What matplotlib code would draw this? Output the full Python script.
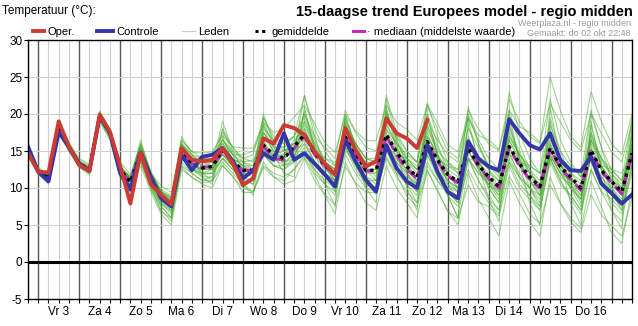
import matplotlib
matplotlib.use("Agg")
import matplotlib.pyplot as plt
from matplotlib.lines import Line2D
import numpy as np

plt.rcParams['font.family'] = ['Liberation Sans', 'DejaVu Sans']
plt.rcParams['axes.unicode_minus'] = False

# 6-hourly steps, starting do 2 okt 18:00
day_labels = ["Vr 3", "Za 4", "Zo 5", "Ma 6", "Di 7", "Wo 8", "Do 9", "Vr 10",
              "Za 11", "Zo 12", "Ma 13", "Di 14", "Wo 15", "Do 16"]

oper = [14.7,
        12.2, 12.1, 19.0, 15.6,
        13.1, 12.3, 19.9, 17.6,
        13.0, 7.9, 14.8, 10.5,
        9.1, 7.8, 15.4, 13.8,
        13.6, 13.8, 15.4, 13.3,
        10.4, 11.3, 16.7, 16.0,
        18.5, 18.1, 17.2, 14.9,
        13.3, 11.8, 18.1, 15.1,
        12.9, 13.6, 19.4, 17.4,
        16.7, 15.4, 19.2]

controle = [15.6,
            12.2, 10.9, 17.6, 15.5,
            13.3, 12.3, 19.7, 17.5,
            12.0, 9.8, 14.8, 11.5,
            8.6, 7.5, 14.5, 12.4,
            14.2, 14.5, 15.4, 13.6,
            11.3, 12.4, 14.7, 13.8,
            17.4, 13.8, 14.7, 13.3,
            11.8, 10.2, 16.5, 13.6,
            11.1, 9.5, 15.8, 12.7,
            10.9, 10.0, 15.8, 12.2,
            9.5, 8.6, 16.3, 14.0,
            12.9, 12.4, 19.3, 17.4,
            15.8, 15.2, 17.4, 13.8,
            12.4, 12.3, 14.2, 10.6,
            9.3, 7.9, 9.1]

gemiddelde = [15.0,
              12.3, 11.3, 18.2, 15.5,
              13.3, 12.5, 19.7, 17.4,
              12.5, 10.8, 14.8, 11.0,
              8.8, 7.9, 14.9, 13.4,
              12.7, 12.9, 15.1, 13.6,
              12.4, 12.4, 15.8, 14.5,
              14.0, 15.6, 17.2, 14.7,
              13.1, 11.8, 16.9, 14.7,
              12.4, 12.4, 17.2, 14.9,
              12.9, 11.5, 16.3, 13.8,
              11.8, 10.9, 15.4, 13.1,
              11.5, 10.2, 15.6, 13.3,
              11.5, 10.2, 15.4, 12.9,
              11.5, 10.0, 15.1, 12.4,
              10.9, 9.5, 14.7]

mediaan = [15.0,
           12.3, 11.2, 18.2, 15.5,
           13.3, 12.5, 19.7, 17.4,
           12.5, 10.8, 14.8, 11.0,
           8.8, 7.9, 14.9, 13.3,
           12.8, 12.9, 15.0, 13.5,
           12.4, 12.4, 15.6, 14.0,
           13.8, 15.4, 17.0, 14.5,
           13.0, 11.7, 16.8, 14.5,
           12.3, 12.3, 17.0, 14.5,
           12.5, 11.3, 16.2, 13.6,
           11.6, 10.7, 15.3, 13.0,
           11.3, 10.0, 15.5, 13.0,
           11.2, 10.0, 15.3, 12.7,
           11.2, 9.7, 15.0, 12.2,
           10.7, 9.2, 14.6]

leden = [
    [15.5, 12.8, 11.8, 18.7, 16.0, 13.8, 13.0, 20.2, 17.9, 13.5, 11.8, 15.8, 12.0,
     10.3, 9.4, 16.4, 14.9, 14.7, 14.9, 17.1, 15.6, 15.4, 15.4, 18.8, 17.5,
     18.0, 19.6, 21.2, 18.7, 16.1, 14.8, 19.9, 17.7, 16.4, 16.4, 21.2, 18.9,
     17.9, 16.5, 21.3, 18.8, 15.8, 14.9, 19.4, 17.1, 16.5, 15.2, 20.6, 18.3,
     17.5, 16.2, 21.4, 18.9, 16.5, 15.0, 20.1, 17.4, 14.9, 13.5, 18.7],
    [14.5, 11.8, 10.8, 17.7, 15.0, 12.8, 12.0, 19.2, 16.9, 11.5, 9.8, 13.8, 10.0,
     6.8, 5.9, 12.9, 11.4, 10.7, 10.9, 13.1, 11.6, 9.4, 9.4, 12.8, 11.5,
     11.0, 12.6, 14.2, 11.7, 9.1, 7.8, 12.9, 10.7, 9.4, 9.4, 14.2, 11.9,
     8.9, 7.5, 12.3, 9.8, 6.8, 5.9, 10.4, 8.1, 7.5, 6.2, 11.6, 9.3,
     6.5, 5.2, 10.4, 7.9, 5.5, 4.0, 9.1, 6.4, 4.9, 3.5, 8.7],
    [15.2, 12.1, 11.0, 18.5, 15.3, 13.1, 12.2, 20.0, 17.2, 12.2, 10.3, 15.5, 11.5,
     8.3, 7.0, 16.0, 13.8, 12.0, 11.0, 18.0, 14.5, 11.5, 10.5, 19.0, 15.5,
     13.0, 13.5, 20.5, 15.5, 12.0, 9.5, 20.0, 15.5, 11.0, 10.0, 20.5, 16.0,
     12.0, 9.5, 19.5, 14.5, 10.5, 8.5, 18.5, 14.0, 10.0, 8.0, 19.0, 14.0,
     10.0, 7.5, 19.0, 13.5, 10.0, 7.5, 18.5, 13.0, 9.5, 7.0, 18.0],
    [14.8, 12.5, 11.6, 17.9, 15.7, 13.5, 12.8, 19.4, 17.6, 12.8, 11.3, 14.3, 11.8,
     9.5, 8.8, 14.0, 13.0, 13.0, 13.5, 14.5, 13.8, 13.5, 13.8, 15.0, 14.5,
     15.0, 16.0, 16.5, 15.0, 14.0, 13.5, 15.5, 14.5, 13.5, 13.5, 15.5, 14.5,
     14.0, 13.0, 15.0, 14.0, 13.0, 12.5, 14.0, 13.5, 13.0, 12.0, 14.5, 13.5,
     13.0, 12.0, 14.0, 13.0, 12.5, 12.0, 14.0, 13.0, 12.5, 12.0, 14.5],
    [15.0, 12.0, 11.5, 18.0, 15.8, 13.0, 12.8, 19.5, 17.0, 13.0, 11.5, 16.0, 12.0,
     9.5, 8.5, 16.0, 14.5, 14.0, 14.5, 17.5, 15.5, 14.0, 13.5, 18.0, 16.5,
     16.0, 17.0, 19.5, 16.0, 13.0, 11.0, 16.0, 13.0, 10.5, 9.5, 14.0, 11.5,
     9.5, 8.0, 13.0, 11.0, 9.5, 8.0, 14.0, 12.0, 11.0, 10.0, 17.0, 14.5,
     13.0, 12.0, 18.5, 15.0, 13.0, 11.5, 17.0, 14.0, 11.5, 10.0, 15.5],
    [14.9, 12.4, 11.2, 18.3, 15.2, 13.2, 12.3, 19.6, 17.2, 12.0, 10.0, 13.5, 10.0,
     7.5, 6.0, 13.0, 12.0, 11.0, 11.0, 13.5, 12.0, 10.5, 9.5, 13.0, 12.0,
     11.5, 12.5, 14.5, 12.5, 11.0, 10.0, 15.0, 13.5, 12.5, 12.5, 18.0, 16.0,
     14.5, 13.5, 19.0, 16.5, 14.5, 13.5, 19.5, 16.5, 14.0, 12.5, 18.0, 15.0,
     12.0, 10.0, 15.0, 12.5, 11.0, 9.0, 14.0, 11.0, 9.0, 7.5, 13.0],
    [15.3, 12.0, 10.8, 18.6, 15.5, 13.0, 12.0, 20.3, 17.5, 12.0, 10.0, 15.0, 10.5,
     7.5, 6.0, 15.5, 13.0, 11.5, 10.5, 17.0, 13.5, 10.5, 9.0, 18.5, 14.5,
     12.0, 11.5, 21.0, 15.0, 10.5, 7.5, 19.0, 14.0, 10.0, 8.0, 21.0, 15.0,
     10.0, 7.0, 20.0, 14.5, 9.0, 6.0, 19.5, 13.0, 8.5, 5.5, 20.0, 13.5,
     8.0, 5.0, 21.0, 13.5, 8.0, 5.0, 19.0, 12.5, 7.0, 4.5, 18.0],
    [15.1, 12.6, 11.5, 18.0, 15.6, 13.5, 12.6, 19.8, 17.6, 12.8, 11.5, 15.5, 12.0,
     9.5, 8.5, 16.5, 15.0, 14.0, 14.0, 16.5, 15.0, 14.0, 14.5, 19.5, 17.0,
     16.0, 17.0, 22.5, 18.0, 15.0, 13.0, 19.0, 16.0, 14.0, 13.5, 20.0, 17.0,
     15.0, 13.5, 21.0, 18.0, 15.0, 14.0, 20.5, 18.0, 16.0, 15.0, 22.0, 19.0,
     17.0, 16.0, 25.0, 20.5, 17.0, 15.5, 23.0, 19.0, 16.0, 14.5, 20.0],
    [14.7, 12.0, 10.5, 17.8, 15.0, 13.0, 12.0, 19.0, 16.5, 11.5, 9.5, 13.0, 9.5,
     6.5, 5.0, 12.5, 11.5, 10.5, 10.0, 13.0, 11.5, 10.0, 9.5, 13.5, 11.5,
     10.5, 11.0, 14.0, 11.0, 9.0, 6.5, 13.5, 10.5, 8.0, 7.0, 13.0, 10.0,
     8.0, 6.0, 12.5, 9.5, 7.0, 5.0, 12.0, 8.5, 6.0, 3.5, 11.0, 8.0,
     5.5, 3.5, 11.5, 8.0, 6.0, 4.5, 11.0, 7.5, 4.0, 2.5, 10.0],
    [15.0, 12.2, 11.4, 18.4, 15.4, 13.4, 12.6, 19.5, 17.3, 12.6, 11.0, 15.0, 11.3,
     9.0, 8.0, 15.0, 13.5, 12.5, 13.0, 16.0, 14.0, 13.0, 12.5, 17.0, 15.0,
     14.0, 15.5, 18.0, 15.0, 13.5, 12.5, 18.0, 15.5, 13.5, 13.0, 19.0, 15.5,
     13.0, 11.5, 17.0, 14.5, 12.0, 11.0, 16.0, 13.5, 11.5, 10.0, 16.5, 14.0,
     12.0, 10.5, 17.0, 14.0, 12.0, 10.5, 16.0, 13.0, 11.0, 9.5, 15.0],
    [15.2, 12.5, 11.0, 18.0, 15.4, 13.2, 12.4, 19.8, 17.5, 12.3, 10.5, 14.5, 10.5,
     8.5, 7.5, 14.5, 13.0, 12.0, 12.5, 14.5, 13.0, 12.0, 12.0, 16.5, 14.0,
     13.0, 15.0, 16.0, 13.5, 12.0, 11.0, 17.5, 15.0, 12.5, 12.0, 16.0, 13.5,
     11.5, 10.5, 15.5, 12.5, 10.5, 9.5, 16.5, 13.5, 12.0, 11.0, 14.5, 12.0,
     10.0, 8.5, 14.0, 11.5, 10.5, 9.0, 16.5, 13.0, 11.0, 10.0, 16.0],
    [14.6, 12.3, 11.5, 18.5, 15.8, 13.6, 12.7, 20.0, 17.0, 12.0, 10.5, 14.0, 11.0,
     8.0, 7.0, 14.0, 12.5, 12.0, 12.0, 14.0, 13.0, 12.0, 12.5, 15.0, 14.0,
     14.5, 16.0, 17.5, 15.0, 13.5, 12.5, 17.0, 14.5, 12.0, 12.0, 16.0, 14.0,
     12.5, 11.0, 16.0, 13.0, 11.0, 10.0, 14.0, 12.0, 10.5, 9.0, 13.5, 11.5,
     10.0, 9.0, 14.5, 12.0, 11.0, 10.0, 15.5, 12.5, 10.5, 9.0, 14.0],
    [15.4, 12.6, 11.7, 18.8, 16.2, 14.0, 13.2, 20.4, 18.0, 13.0, 11.0, 16.5, 12.0,
     9.0, 8.0, 17.0, 14.5, 13.5, 13.0, 19.0, 15.0, 12.5, 12.0, 20.0, 16.0,
     14.0, 15.0, 22.5, 17.0, 13.0, 10.5, 19.5, 15.5, 12.5, 11.0, 22.0, 16.5,
     13.0, 10.5, 18.5, 14.5, 12.0, 10.0, 17.0, 13.5, 11.0, 9.0, 18.5, 14.0,
     11.0, 9.0, 18.0, 13.5, 10.5, 8.5, 17.5, 13.0, 10.0, 8.0, 17.0],
    [14.8, 12.0, 11.2, 18.0, 15.2, 13.0, 12.2, 19.4, 17.0, 12.2, 10.2, 14.0, 10.5,
     8.0, 6.5, 14.0, 12.5, 11.5, 11.5, 14.0, 12.5, 11.0, 10.5, 14.5, 13.0,
     12.5, 13.5, 15.5, 12.5, 10.5, 9.0, 14.5, 12.0, 10.0, 9.5, 15.0, 12.0,
     10.5, 9.0, 14.5, 11.5, 9.5, 8.0, 12.5, 10.0, 8.0, 6.5, 13.0, 10.0,
     8.5, 7.0, 13.5, 10.5, 9.0, 7.0, 12.5, 9.5, 7.0, 5.5, 13.0],
    [15.0, 12.4, 11.4, 18.2, 15.5, 13.3, 12.5, 19.9, 17.4, 12.7, 11.2, 15.2, 11.8,
     9.8, 9.0, 15.5, 14.0, 13.5, 14.0, 16.5, 14.5, 14.5, 15.0, 18.5, 16.0,
     15.5, 17.0, 20.0, 17.0, 15.5, 14.0, 20.5, 17.5, 15.5, 15.0, 20.0, 17.0,
     14.0, 12.5, 18.5, 15.5, 13.0, 12.0, 16.5, 14.0, 12.5, 11.0, 17.0, 14.5,
     12.0, 10.5, 16.0, 13.0, 11.5, 10.0, 16.5, 13.5, 12.0, 10.5, 16.0],
    [15.1, 12.2, 11.0, 17.6, 15.0, 12.8, 11.8, 19.0, 16.8, 11.8, 10.0, 13.5, 10.0,
     7.0, 5.5, 13.5, 12.0, 11.0, 11.5, 15.0, 13.0, 11.5, 11.0, 14.5, 13.0,
     13.0, 14.0, 16.0, 13.5, 12.0, 11.0, 16.0, 13.5, 11.5, 11.0, 17.5, 14.0,
     12.0, 10.5, 16.5, 13.5, 11.0, 10.0, 15.0, 12.5, 10.5, 9.5, 15.5, 13.0,
     11.0, 9.5, 14.5, 12.0, 10.0, 8.5, 14.5, 11.5, 9.5, 8.0, 14.5],
    [15.3, 12.5, 11.3, 18.4, 15.6, 13.4, 12.6, 19.7, 17.5, 12.5, 10.8, 14.8, 11.2,
     8.8, 8.0, 15.5, 14.0, 13.0, 13.0, 15.5, 14.0, 13.0, 13.0, 17.5, 15.5,
     15.0, 16.0, 18.5, 15.5, 13.5, 12.5, 18.5, 16.0, 14.0, 13.5, 22.5, 17.5,
     15.0, 13.5, 21.5, 17.0, 13.5, 12.0, 20.0, 16.0, 13.0, 11.5, 23.0, 17.5,
     14.0, 12.0, 22.0, 16.5, 13.5, 11.5, 20.5, 15.5, 12.5, 11.0, 19.5],
    [14.9, 12.1, 11.1, 18.1, 15.3, 13.1, 12.3, 19.6, 17.1, 12.4, 10.6, 14.6, 10.8,
     8.6, 7.6, 14.5, 13.0, 12.5, 12.5, 14.5, 13.0, 12.0, 11.5, 15.5, 14.0,
     13.5, 14.5, 16.5, 13.5, 12.0, 10.0, 16.5, 13.5, 11.0, 10.0, 16.5, 13.0,
     10.5, 8.0, 15.0, 12.0, 9.0, 6.0, 14.0, 11.0, 9.0, 7.0, 15.0, 11.5,
     9.0, 7.5, 14.0, 11.0, 9.0, 7.0, 14.5, 11.0, 8.0, 6.5, 13.5],
    [15.1, 12.4, 11.3, 18.3, 15.6, 13.2, 12.4, 19.6, 17.3, 12.6, 10.9, 15.3, 11.6,
     9.2, 8.3, 15.2, 13.6, 12.0, 12.0, 16.5, 14.5, 13.0, 12.0, 17.5, 15.0,
     13.5, 14.0, 19.0, 15.5, 13.0, 11.0, 17.0, 14.0, 11.5, 10.5, 18.0, 15.0,
     13.5, 12.0, 17.5, 14.0, 11.0, 9.5, 16.0, 13.0, 10.5, 8.5, 16.5, 13.5,
     11.0, 9.0, 16.0, 13.0, 11.5, 9.5, 17.5, 14.0, 12.0, 10.0, 17.0],
    [15.0, 12.3, 11.4, 18.1, 15.4, 13.2, 12.5, 19.7, 17.3, 12.4, 10.7, 14.5, 11.0,
     9.0, 8.2, 14.5, 13.0, 12.5, 12.5, 15.5, 13.5, 12.5, 12.5, 16.0, 14.0,
     14.5, 16.5, 18.0, 14.5, 12.5, 11.5, 15.5, 13.0, 11.0, 11.0, 16.0, 13.5,
     12.0, 10.0, 14.5, 12.0, 10.0, 9.5, 15.0, 12.5, 10.0, 8.0, 14.0, 11.5,
     10.0, 8.0, 15.5, 12.5, 10.5, 8.0, 14.5, 11.5, 10.0, 8.5, 14.0],
    [15.2, 12.4, 11.5, 18.5, 15.8, 13.5, 12.7, 20.1, 17.8, 12.9, 11.4, 15.6, 11.9,
     9.6, 8.7, 15.8, 14.2, 13.5, 13.5, 16.0, 14.5, 13.5, 13.0, 17.5, 15.5,
     15.5, 16.0, 19.0, 16.0, 14.0, 13.0, 18.5, 16.0, 14.0, 14.0, 18.5, 16.0,
     14.0, 12.5, 18.0, 15.0, 13.5, 12.5, 18.0, 15.5, 13.0, 12.0, 17.5, 14.5,
     12.5, 11.0, 16.5, 13.5, 12.0, 11.0, 16.5, 14.0, 12.5, 11.0, 15.5],
    [14.8, 12.2, 11.1, 18.0, 15.2, 13.1, 12.3, 19.4, 17.0, 12.1, 10.3, 14.2, 10.3,
     7.8, 6.8, 14.2, 12.6, 11.8, 12.0, 14.0, 12.5, 11.0, 11.0, 15.0, 13.0,
     12.5, 14.0, 15.0, 12.0, 10.5, 9.5, 15.5, 12.5, 10.5, 10.0, 15.5, 12.5,
     11.0, 9.5, 13.5, 11.0, 9.0, 7.5, 14.0, 11.0, 8.5, 7.0, 13.5, 10.5,
     9.0, 7.0, 14.0, 11.0, 8.5, 6.5, 12.5, 9.5, 8.5, 7.0, 12.0],
    [15.3, 12.5, 11.6, 18.6, 15.9, 13.6, 12.9, 20.2, 17.6, 12.8, 11.3, 16.0, 12.3,
     9.4, 8.3, 16.0, 14.5, 13.0, 12.5, 18.0, 15.5, 13.5, 12.5, 19.5, 16.5,
     15.0, 15.5, 20.0, 16.5, 13.5, 11.5, 19.5, 16.0, 13.0, 11.5, 20.5, 16.5,
     13.5, 11.0, 20.0, 16.0, 12.0, 10.0, 21.0, 16.0, 12.5, 10.0, 20.5, 16.0,
     12.5, 10.0, 19.5, 15.0, 11.5, 9.5, 20.0, 15.5, 11.0, 9.0, 19.0],
    [14.9, 12.3, 11.2, 18.2, 15.4, 13.3, 12.5, 19.8, 17.3, 12.5, 10.9, 14.9, 11.1,
     8.9, 8.0, 14.8, 13.4, 12.5, 13.0, 15.0, 13.5, 12.5, 12.0, 16.0, 14.5,
     14.0, 15.0, 17.0, 14.5, 13.5, 12.5, 17.0, 14.5, 12.5, 12.5, 17.0, 15.0,
     13.5, 12.5, 17.0, 14.5, 12.5, 11.5, 15.0, 13.0, 11.0, 9.5, 15.5, 13.0,
     11.5, 10.0, 14.5, 12.0, 10.0, 8.5, 15.0, 12.5, 11.0, 10.0, 15.0],
]

n_steps = len(gemiddelde)
steps = np.arange(n_steps)

W, H = 638, 326
fig = plt.figure(figsize=(W / 100, H / 100), dpi=100)
ax = fig.add_axes([28 / W, 1 - 299 / H, (632 - 28) / W, (299 - 40) / H])

# grid: light every 6h, dark at midnight, light every 5 degrees
for k in range(n_steps):
    if k % 4 == 1:
        ax.axvline(k, color='#555555', lw=1.0, zorder=1)
    else:
        ax.axvline(k, color='#d0d0d0', lw=0.8, zorder=1)
for v in range(-5, 31, 5):
    ax.axhline(v, color='#d0d0d0', lw=0.8, zorder=1)
ax.axhline(0, color='black', lw=2.2, zorder=6)

for m in leden:
    ax.plot(steps, m, color='#45ac2a', lw=0.8, alpha=0.5, zorder=2)

ax.plot(steps, mediaan, color='#c02cc0', lw=2.2, dashes=(4, 2), zorder=3)
ax.plot(steps, gemiddelde, color='black', lw=2.4, dashes=(1, 1.2), zorder=4)
ax.plot(np.arange(len(controle)), controle, color='#3436a8', lw=2.8, zorder=5)
ax.plot(np.arange(len(oper)), oper, color='#cc3a34', lw=2.8, zorder=5)

ax.set_xlim(0, n_steps - 1)
ax.set_ylim(-5, 30)
ax.set_yticks(range(-5, 31, 5))
ax.tick_params(axis='y', labelsize=8.5, length=3, pad=1)
ax.set_xticks(steps)
ax.set_xticklabels([day_labels[(k - 3) // 4] if k % 4 == 3 and (k - 3) // 4 < len(day_labels) else ''
                    for k in steps])
ax.tick_params(axis='x', labelsize=8.5, length=3, pad=2)
for s in ax.spines.values():
    s.set_linewidth(1.0)
    s.set_zorder(7)

# header texts
fig.text(2 / W, 1 - 14 / H, "Temperatuur (°C):", fontsize=8.5)
fig.text(633 / W, 1 - 16 / H, "15-daagse trend Europees model - regio midden",
         fontsize=10.5, fontweight='bold', ha='right')
fig.text(631 / W, 1 - 26 / H, "Weerplaza.nl - regio midden", fontsize=6.5,
         color='#9a9a9a', ha='right')
fig.text(631 / W, 1 - 36 / H, "Gemaakt: do 02 okt 22:48", fontsize=6.5,
         color='#9a9a9a', ha='right')

# legend row
ly = 1 - 32 / H
legend_items = [
    (33, 44, dict(color='#cc3a34', lw=2.8), "Oper."),
    (97, 113, dict(color='#3436a8', lw=2.8), "Controle"),
    (182, 195, dict(color='#c8c8c8', lw=0.8), "Leden"),
    (255, 268, dict(color='black', lw=2.2, dashes=(1, 1.2)), "gemiddelde"),
    (353, 364, dict(color='#c02cc0', lw=2.2), "· mediaan (middelste waarde)"),
]
for x0, x1, style, label in legend_items:
    fig.add_artist(Line2D([x0 / W, x1 / W], [ly + 1 / H, ly + 1 / H],
                          transform=fig.transFigure, **style))
    fig.text((x1 + 3) / W, ly, label, fontsize=8, va='center')

fig.savefig("out.png", dpi=100)
